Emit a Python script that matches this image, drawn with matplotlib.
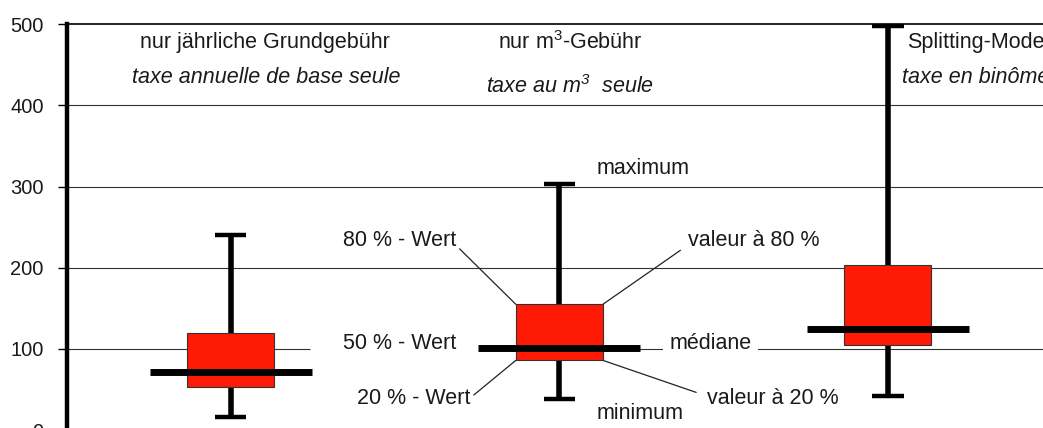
import matplotlib
matplotlib.use("Agg")
import matplotlib.pyplot as plt
import numpy as np

plt.rcParams['font.family'] = ['Liberation Sans', 'DejaVu Sans']
plt.rcParams['mathtext.fontset'] = 'custom'
plt.rcParams['mathtext.rm'] = 'Liberation Sans'
plt.rcParams['mathtext.it'] = 'Liberation Sans:italic'
plt.rcParams['mathtext.sf'] = 'Liberation Sans:italic'

# ---- data ----
categories_de = ["nur jährliche Grundgebühr", r"nur m$^3$-Gebühr", "Splitting-Model"]
categories_fr = ["taxe annuelle de base seule", r"taxe au m$^{\mathsf{3}}$  seule", "taxe en binôme"]
maximum = [240, 303, 497]
q80 = [120, 155, 204]
median = [72, 101, 125]
q20 = [53, 86, 105]
minimum = [16, 38, 42]
yticks = [0, 100, 200, 300, 400, 500]

RED = '#FF1A05'
TXT = '#1a1a1a'
FS = 15.5

fig = plt.figure(figsize=(10.43, 4.28), dpi=100)
ax = fig.add_axes([66.5/1043, -2.25/428, 1 - 66.5/1043, 406.25/428])

x = np.arange(len(maximum))
box_w = 0.265
med_w = 0.493
cap_w = 0.095

ax.set_xlim(-0.5, 2.472)
ax.set_ylim(0, 500)

# gridlines
for yv in yticks[2:-1]:
    ax.axhline(yv, color='#333333', lw=0.8, zorder=1)
ax.hlines(100, -0.5, 0.242, color='#333333', lw=0.8, zorder=1)
ax.hlines(100, 0.76, 2.472, color='#333333', lw=0.8, zorder=1)

# whiskers
ax.vlines(x, minimum, maximum, color='black', lw=4, zorder=2)
ax.hlines(maximum, x - cap_w/2, x + cap_w/2, color='black', lw=3.2, zorder=2)
ax.hlines(minimum, x - cap_w/2, x + cap_w/2, color='black', lw=3.2, zorder=2)

# boxes
heights = np.array(q80) - np.array(q20)
ax.bar(x, heights, bottom=q20, width=box_w, color=RED, edgecolor='#333333',
       linewidth=0.8, zorder=3)

# medians
ax.hlines(median, x - med_w/2, x + med_w/2, color='black', lw=5, zorder=4)

# spines / ticks
for s in ['right', 'bottom']:
    ax.spines[s].set_visible(False)
ax.spines['left'].set_linewidth(3.2)
ax.spines['top'].set_linewidth(1.2)
ax.set_yticks(yticks)
ax.set_yticklabels([str(v) for v in yticks])
ax.set_xticks([])
ax.tick_params(axis='y', length=6.5, width=1.0, pad=10, labelsize=14.5,
               labelcolor=TXT)

# category titles
title_pos = [(0.105, 0.108, 'center'), (1.034, 1.034, 'center'), (2.058, 2.044, 'left')]
for i in range(3):
    xd, xf, ha = title_pos[i]
    ax.text(xd, 477, categories_de[i], ha=ha, va='center', fontsize=FS, color=TXT)
    ax.text(xf, 434 if i != 1 else 423, categories_fr[i], ha=ha, va='center',
            fontsize=FS, style='italic', color=TXT)

# annotations for middle box
i = 1
left = x[i] - box_w/2
right = x[i] + box_w/2
lp = dict(arrowstyle='-', color='#222222', lw=0.9, shrinkA=1, shrinkB=0)

ax.text(1.114, 322.5, 'maximum', ha='left', va='center', fontsize=FS, color=TXT)
ax.text(1.114, 21, 'minimum', ha='left', va='center', fontsize=FS, color=TXT)

ax.annotate('80 % - Wert', xy=(left, q80[i]), xytext=(0.685, 233),
            ha='right', va='center', fontsize=FS, color=TXT,
            arrowprops=dict(lp, relpos=(1, 0.3)))
ax.annotate('valeur à 80 %', xy=(right, q80[i]), xytext=(1.391, 233),
            ha='left', va='center', fontsize=FS, color=TXT,
            arrowprops=dict(lp, relpos=(0, 0.3), shrinkA=4))
ax.annotate('20 % - Wert', xy=(left, q20[i]), xytext=(0.728, 39.5),
            ha='right', va='center', fontsize=FS, color=TXT,
            arrowprops=dict(lp, relpos=(1, 0.5), shrinkA=1))
ax.annotate('valeur à 20 %', xy=(right, q20[i]), xytext=(1.449, 39.5),
            ha='left', va='center', fontsize=FS, color=TXT,
            arrowprops=dict(lp, relpos=(0, 0.6), shrinkA=6))

ax.text(0.685, 107, '50 % - Wert', ha='right', va='center', fontsize=FS, color=TXT)
ax.text(1.336, 107, 'médiane', ha='left', va='center', fontsize=FS, color=TXT,
        zorder=5, bbox=dict(boxstyle='square,pad=0.3', facecolor='white',
                            edgecolor='none'))

fig.savefig('out.png', dpi=100)
